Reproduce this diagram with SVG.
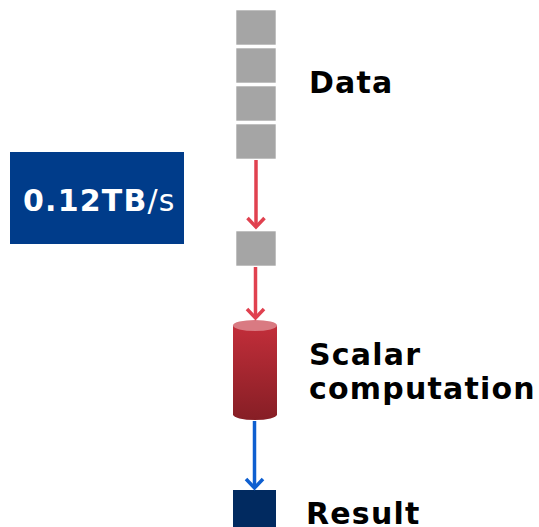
<svg xmlns="http://www.w3.org/2000/svg" width="539" height="527" viewBox="0 0 539 527">
  <defs>
    <style>
      .block { fill: #a5a5a5; stroke: #ffffff; stroke-width: 0.6; }
      .label { font-family: "DejaVu Sans", sans-serif; font-weight: bold; font-size: 30px; letter-spacing: 1.2px; fill: #000000; }
      .flow-red { stroke: #e0414f; stroke-width: 3.5; fill: none; }
      .flow-blue { stroke: #0e5fd0; stroke-width: 3.5; fill: none; }
      .head-red { stroke: #e0414f; stroke-width: 3.5; fill: none; stroke-linejoin: miter; }
      .head-blue { stroke: #0e5fd0; stroke-width: 3.5; fill: none; stroke-linejoin: miter; }
    </style>
    <linearGradient id="cylBody" x1="0" y1="0" x2="0" y2="1">
      <stop offset="0" stop-color="#c22e3a"/>
      <stop offset="1" stop-color="#861e25"/>
    </linearGradient>
  </defs>

  <rect width="539" height="527" fill="#ffffff"/>

  <!-- data stack: four words -->
  <g id="data">
    <rect class="block" x="236" y="10" width="40" height="35"/>
    <rect class="block" x="236" y="48" width="40" height="35"/>
    <rect class="block" x="236" y="86" width="40" height="35"/>
    <rect class="block" x="236" y="124" width="40" height="35"/>
    <text class="label" x="309" y="93">Data</text>
  </g>

  <!-- bandwidth badge -->
  <g id="bandwidth">
    <rect x="10" y="152" width="174" height="92" fill="#003c8a"/>
    <text x="23" y="211" font-family="DejaVu Sans, sans-serif" font-size="30" letter-spacing="1.2" fill="#ffffff"><tspan font-weight="bold">0.12TB</tspan><tspan>/s</tspan></text>
  </g>

  <!-- single word in flight -->
  <g id="word">
    <rect class="block" x="236" y="231" width="40" height="35"/>
  </g>

  <!-- scalar unit -->
  <g id="scalar">
    <path d="M233 325.5 V414.5 A22 5.5 0 0 0 277 414.5 V325.5 Z" fill="url(#cylBody)"/>
    <ellipse cx="255" cy="325.5" rx="22" ry="5.5" fill="#d97a82"/>
    <text class="label" x="309" y="365">Scalar</text>
    <text class="label" x="309" y="399">computation</text>
  </g>

  <!-- result word -->
  <g id="result">
    <rect x="233" y="490" width="43" height="40" fill="#012a60"/>
    <text class="label" x="306" y="524">Result</text>
  </g>

  <!-- connectors -->
  <g id="connectors">
    <line class="flow-red" x1="256" y1="160" x2="256" y2="227"/>
    <polyline class="head-red" points="247.5,218 256,227 264.5,218"/>
    <line class="flow-red" x1="255.5" y1="267" x2="255.5" y2="318"/>
    <polyline class="head-red" points="247,309 255.5,318 264,309"/>
    <line class="flow-blue" x1="254.5" y1="421" x2="254.5" y2="488"/>
    <polyline class="head-blue" points="246,479 254.5,488 263,479"/>
  </g>
</svg>
